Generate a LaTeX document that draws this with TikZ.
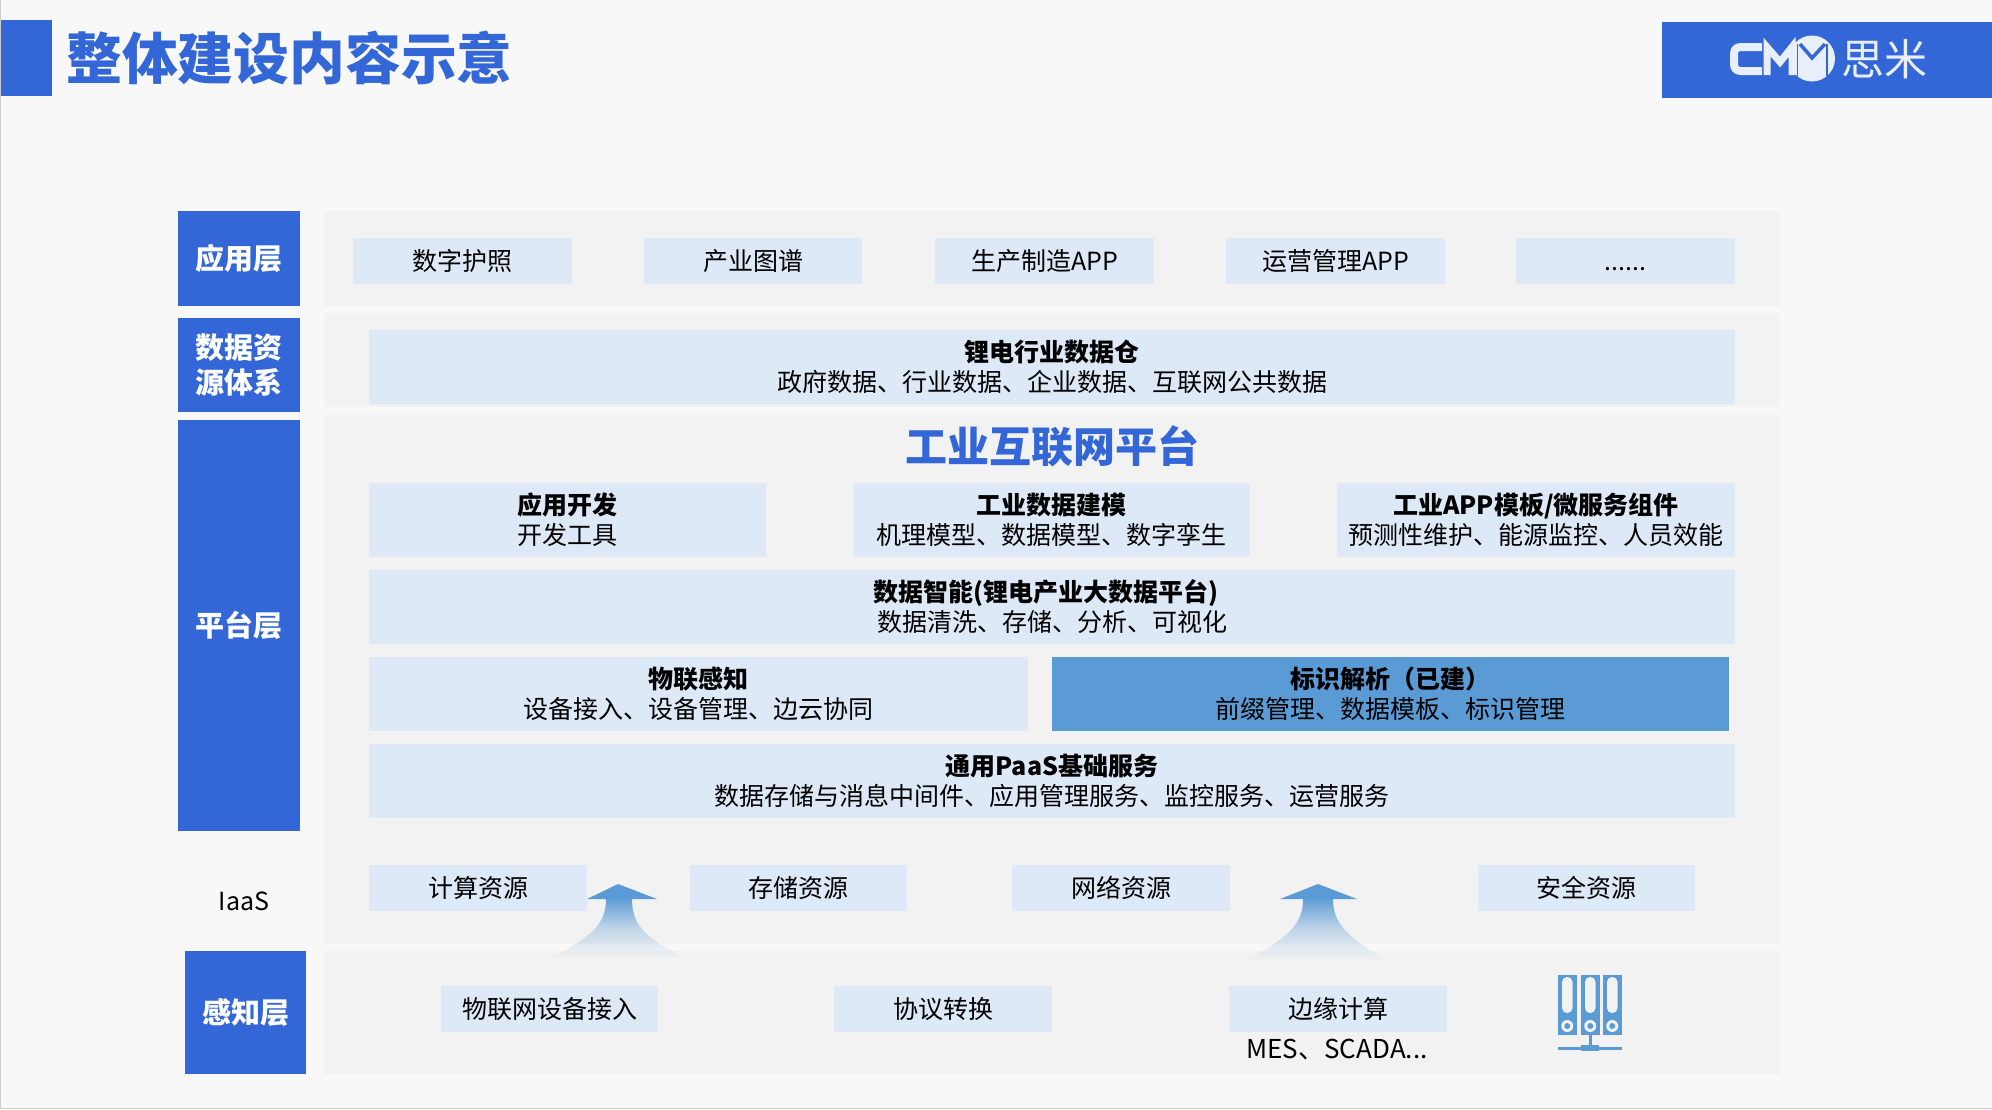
\documentclass[tikz,border=0pt]{standalone}
\usepackage{fontspec}
\setmainfont{Noto Sans CJK SC}
\usetikzlibrary{fadings,calc}
\definecolor{pagebg}{HTML}{F8F8F8}
\definecolor{panelbg}{HTML}{F2F2F2}
\definecolor{boxbg}{HTML}{DDE9F6}
\definecolor{brandblue}{HTML}{3366D6}
\definecolor{midblue}{HTML}{5B9BD5}
\definecolor{logowhite}{HTML}{E9EEFB}
\tikzfading[name=upfade, top color=transparent!5, bottom color=transparent!100, middle color=transparent!68]
\tikzset{
  panel/.style={fill=panelbg, draw=none},
  basebox/.style={inner sep=0pt, outer sep=0pt, align=center, text=black, font=\fontsize{25}{30}\selectfont},
  lightbox/.style={basebox, fill=boxbg},
  darkbox/.style={basebox, fill=midblue},
  layerbox/.style={basebox, fill=brandblue, text=white, font=\fontsize{29}{35}\selectfont\bfseries},
  plain/.style={basebox, font=\fontsize{25}{30}\selectfont},
}
\newcommand\TBox[7][lightbox]{\node[#1, minimum width={(#5)-(#3)}, minimum height={(#6)-(#4)}] (#2) at ({((#3)+(#5))/2},{((#4)+(#6))/2}) {#7};}
\begin{document}
\begin{tikzpicture}[x=1pt,y=-1pt]
\useasboundingbox (0,0) rectangle (1992,1109);
\fill[pagebg] (0,0) rectangle (1992,1109);
\fill[black!20] (0,0) rectangle (1.2,1109);
\fill[black!20] (0,1107.8) rectangle (1992,1109);
% header
\fill[brandblue] (1,20) rectangle (52,96);
\node[inner sep=0pt, text=brandblue, font=\fontsize{55.8}{60}\selectfont\bfseries] (title) at (289.5,58) {整体建设内容示意};
\fill[brandblue] (1662,22) rectangle (1992,98);
% logo
\begin{scope}[logowhite]
  \draw[line width=8pt, line join=round] (1762,47) -- (1741,47) .. controls (1736,47) and (1734,50) .. (1734,54) -- (1734,64) .. controls (1734,68) and (1736,71) .. (1741,71) -- (1762,71);
  \draw[line width=7pt, line join=miter] (1767,75) -- (1767,47) -- (1780,62) -- (1792,47) -- (1792,75);
  \fill (1812,58.5) circle (23);
  \fill[logowhite] (1798,43) rectangle (1826,75);
  \draw[brandblue, line width=1.5pt] (1797.5,44) -- (1797.5,76);
  \draw[brandblue, line width=1.5pt] (1827,44) -- (1827,76);
  \draw[brandblue, line width=3.5pt] (1800,44) -- (1812,58) -- (1825,44);
\end{scope}
\node[inner sep=0pt, text=logowhite, font=\fontsize{43}{47}\selectfont] (logotext) at (1884,59) {思米};
% panels
\fill[panel] (324,211) rectangle (1780,306);
\fill[panel] (324,313) rectangle (1780,407);
\fill[panel] (324,415) rectangle (1780,944);
\fill[panel] (324,951) rectangle (1780,1074);
% layer labels
\TBox[layerbox]{lapp}{178}{211}{300}{306}{应用层}
\TBox[layerbox]{ldata}{178}{318}{300}{412}{数据资\\源体系}
\TBox[layerbox]{lplat}{178}{420}{300}{831}{平台层}
\TBox[layerbox]{lsense}{185}{951}{306}{1074}{感知层}
\node[plain] (iaas) at (244,901) {IaaS};
% app row
\TBox{a1}{353}{238}{572}{284}{数字护照}
\TBox{a2}{644}{238}{862}{284}{产业图谱}
\TBox{a3}{935}{238}{1154}{284}{生产制造APP}
\TBox{a4}{1226}{238}{1445}{284}{运营管理APP}
\TBox{a5}{1516}{238}{1735}{284}{\vphantom{字}......}
% data
\TBox{d1}{369}{330}{1735}{404}{\textbf{锂电行业数据仓}\\政府数据、行业数据、企业数据、互联网公共数据}
% platform
\node[inner sep=0pt, text=brandblue, font=\fontsize{42}{48}\selectfont\bfseries] (ptitle) at (1052,446) {工业互联网平台};
\TBox{p1}{369}{483}{766}{557}{\textbf{应用开发}\\开发工具}
\TBox{p2}{853}{483}{1250}{557}{\textbf{工业数据建模}\\机理模型、数据模型、数字孪生}
\TBox{p3}{1337}{483}{1735}{557}{\textbf{工业APP模板/微服务组件}\\预测性维护、能源监控、人员效能}
\TBox{p4}{369}{570}{1735}{644}{\textbf{数据智能(锂电产业大数据平台)}\hspace*{13pt}\\数据清洗、存储、分析、可视化}
\TBox{p5}{369}{657}{1028}{731}{\textbf{物联感知}\\设备接入、设备管理、边云协同}
\TBox[darkbox]{p6}{1052}{657}{1729}{731}{\textbf{标识解析（已建）}\\前缀管理、数据模板、标识管理}
\TBox{p7}{369}{744}{1735}{818}{\textbf{通用PaaS基础服务}\\数据存储与消息中间件、应用管理服务、监控服务、运营服务}
% IaaS row
\TBox{i1}{369}{865}{587}{911}{计算资源}
\TBox{i2}{690}{865}{907}{911}{存储资源}
\TBox{i3}{1012}{865}{1230}{911}{网络资源}
\TBox{i4}{1478}{865}{1695}{911}{安全资源}
% sense row
\TBox{s1}{441}{986}{658}{1032}{物联网设备接入}
\TBox{s2}{834}{986}{1052}{1032}{协议转换}
\TBox{s3}{1229}{986}{1447}{1032}{边缘计算}
\node[plain, font=\fontsize{26}{30}\selectfont] (mes) at (1337,1050) {MES、SCADA...};
% arrows
\fill[midblue, path fading=upfade] (606,899) .. controls (606,925) and (590,938) .. (550,958) -- (685,958) .. controls (645,938) and (632,925) .. (632,899) -- cycle;
\fill[midblue] (618,884) -- (657,899) -- (587,899) -- cycle;
\fill[midblue, path fading=upfade] (1303,899) .. controls (1303,925) and (1287,938) .. (1247,960) -- (1387,960) .. controls (1349,938) and (1333,925) .. (1333,899) -- cycle;
\fill[midblue] (1318,884) -- (1357,899) -- (1280,899) -- cycle;
% server icon
\foreach \bx in {1558,1581,1603}{
  \fill[midblue] (\bx,975) rectangle ++(18.5,60);
  \fill[panelbg, rounded corners=5pt] (\bx+4,977) rectangle ++(10.5,36);
  \fill[panelbg] (\bx+9.25,1026) circle (6);
  \fill[midblue] (\bx+9.25,1026) circle (3);
}
\fill[midblue] (1588.5,1035) rectangle (1591.5,1048);
\fill[midblue] (1558,1046.5) rectangle (1622,1049.5);
\fill[midblue] (1581,1045) rectangle (1599,1051);
\end{tikzpicture}
\end{document}
